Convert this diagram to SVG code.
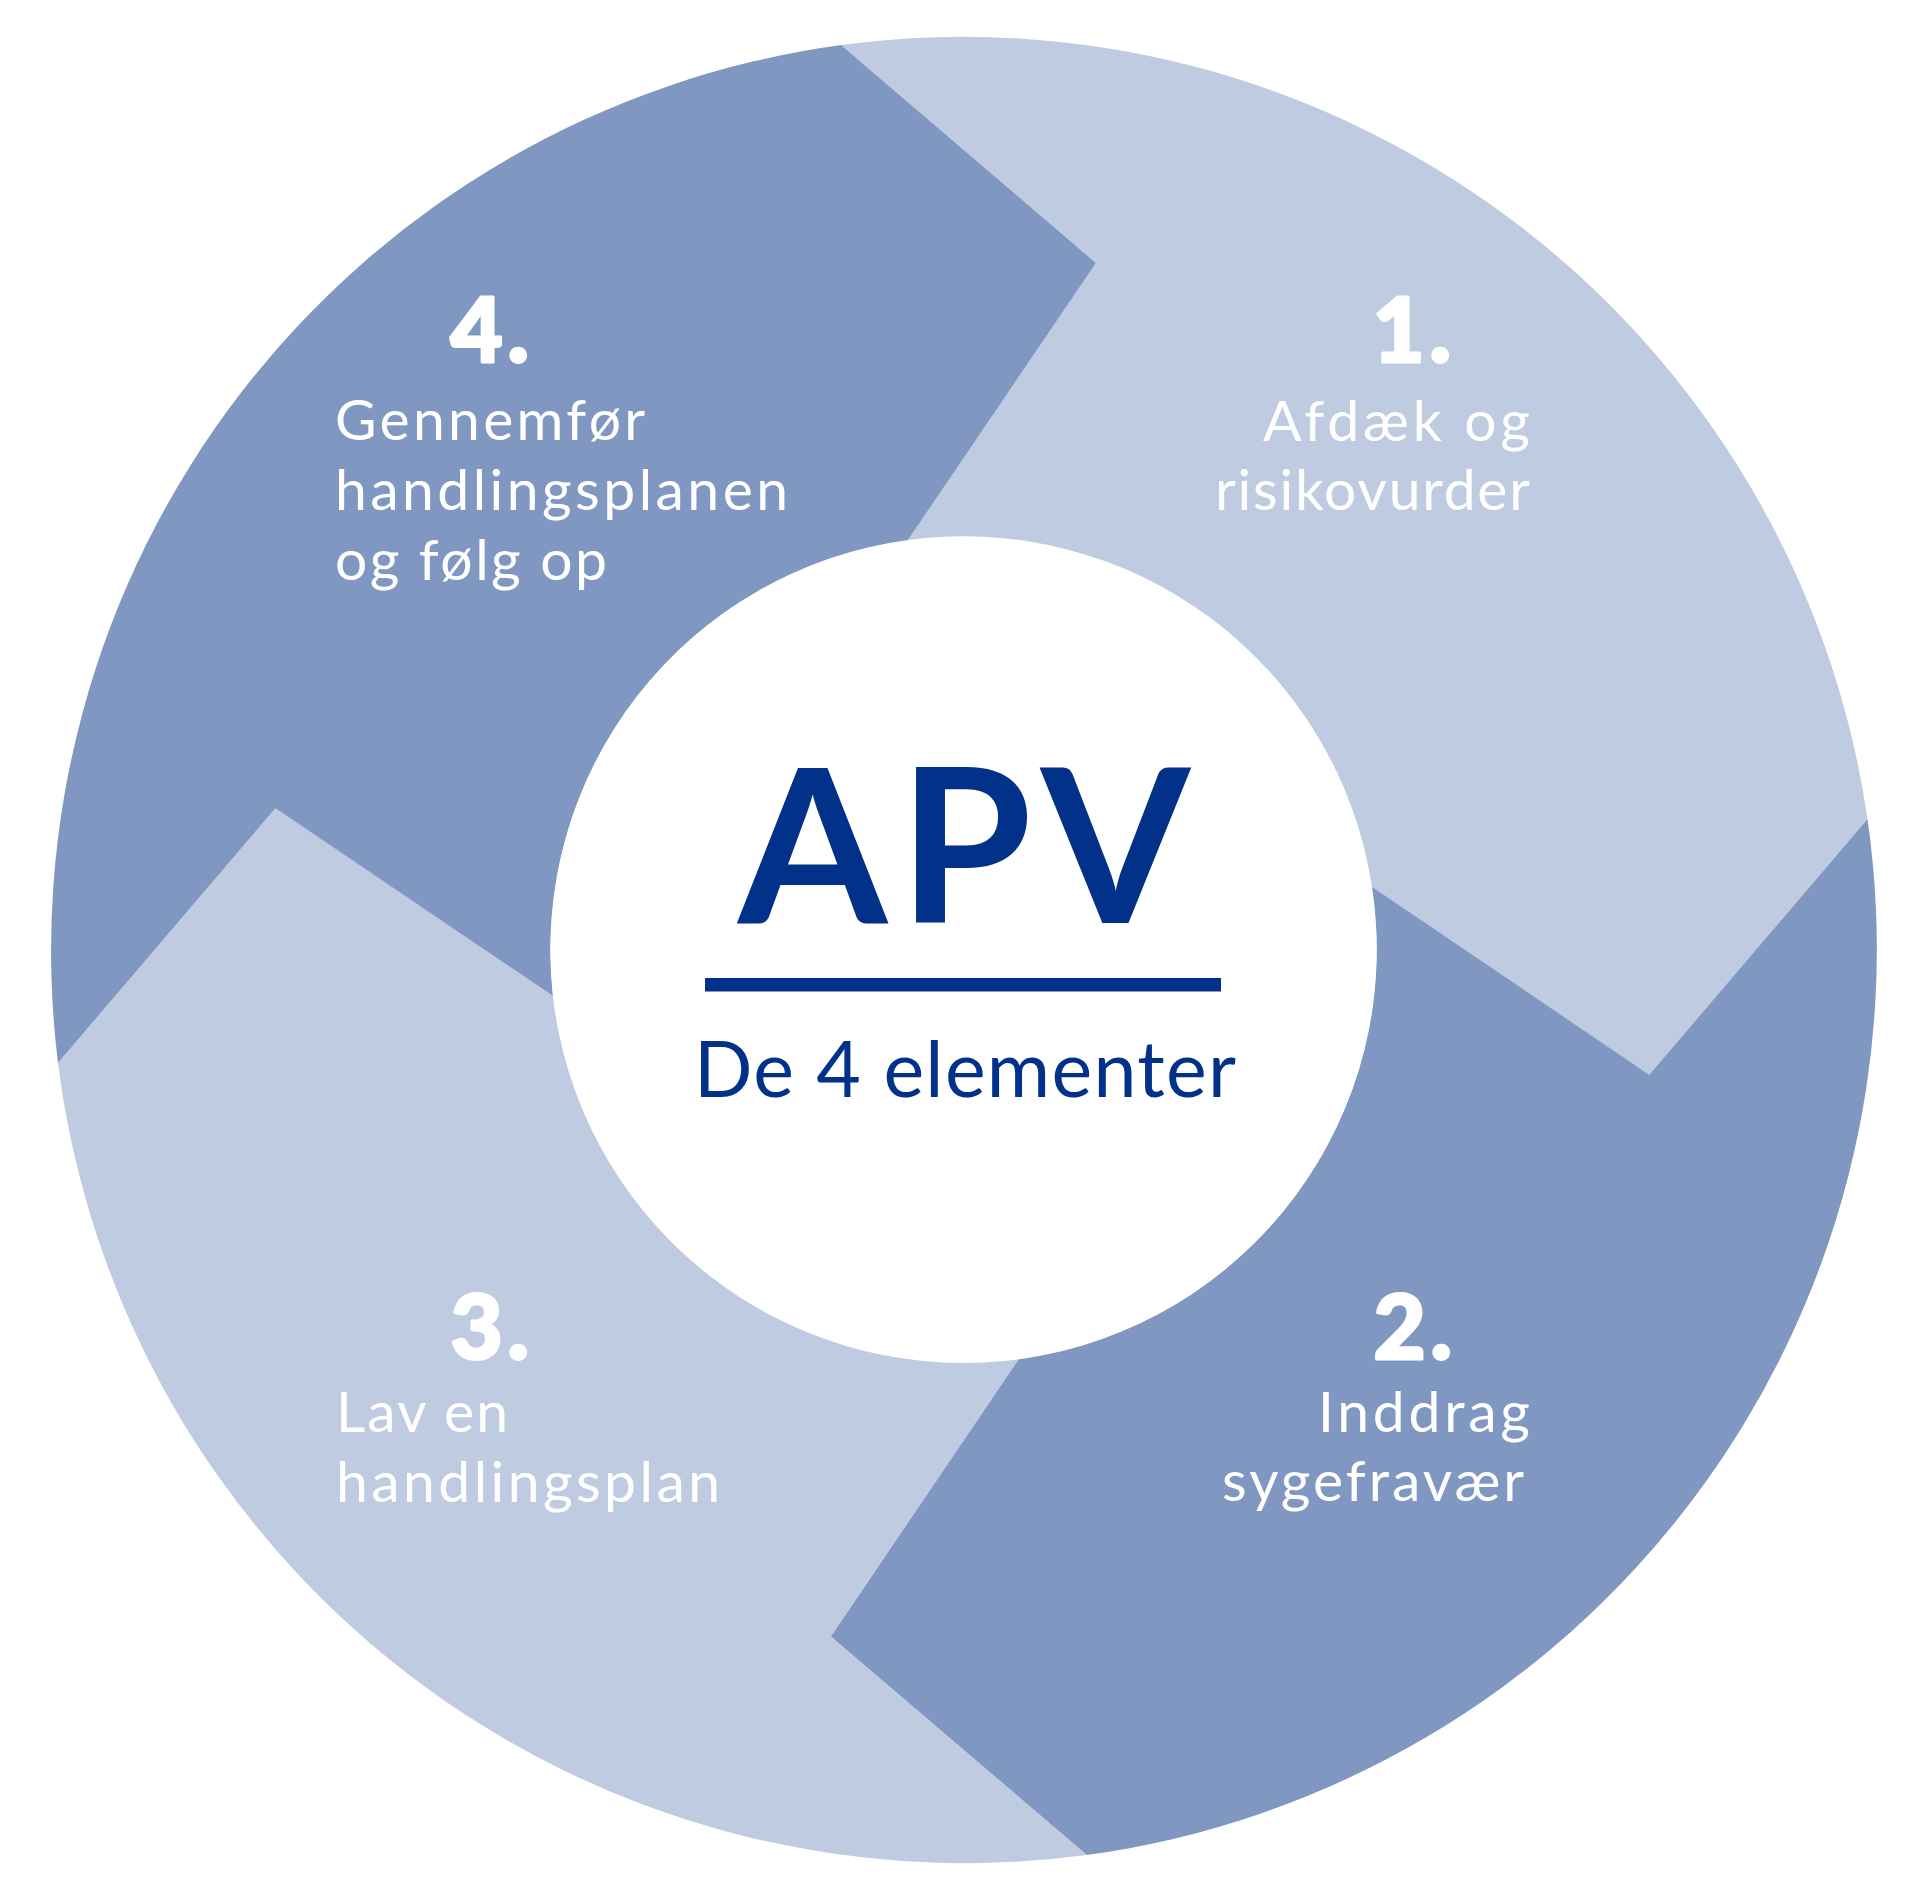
<svg xmlns="http://www.w3.org/2000/svg" width="1927" height="1901" viewBox="0 0 1927 1901">
  <style>
    .light { fill: #BFCBE1; }
    .dark { fill: #8097C2; }
    .num { font-family: Lato, "Liberation Sans", sans-serif; font-weight: 900; font-size: 90px; letter-spacing: 5px; fill: #FFFFFF; stroke: #FFFFFF; stroke-width: 3px; stroke-linejoin: round; }
    .body { font-family: Lato, "Liberation Sans", sans-serif; font-weight: 400; font-size: 57px; fill: #FFFFFF; }
    .title { font-family: Lato, "Liberation Sans", sans-serif; font-weight: 700; font-size: 215px; fill: #02318A; }
    .sub { font-family: Lato, "Liberation Sans", sans-serif; font-weight: 400; font-size: 77px; fill: #02318A; }
  </style>
  <rect x="0" y="0" width="1927" height="1901" fill="#FFFFFF"/>
  <g id="connectors"></g>
  <g id="seg1">
    <path class="light" d="M 841 45 A 914 914 0 0 1 1867.5 819 L 1649.3 1074.7 L 1372 886.7 A 413 413 0 0 0 908 540 L 1096 263 Z"/>
    <text class="num" x="1456" y="362" text-anchor="end">1.</text>
    <text class="body" x="1263" y="441" textLength="267" lengthAdjust="spacing">Afdæk og</text>
    <text class="body" x="1215" y="510" textLength="315" lengthAdjust="spacing">risikovurder</text>
  </g>
  <g id="seg2">
    <path class="dark" d="M 1867.5 819 A 914 914 0 0 1 1086.7 1855 L 830.7 1636.4 L 1019 1358.6 A 413 413 0 0 0 1372 886.7 L 1649.3 1074.7 Z"/>
    <text class="num" x="1457" y="1359" text-anchor="end">2.</text>
    <text class="body" x="1318" y="1432" textLength="212" lengthAdjust="spacing">Inddrag</text>
    <text class="body" x="1222" y="1501" textLength="302" lengthAdjust="spacing">sygefravær</text>
  </g>
  <g id="seg3">
    <path class="light" d="M 1086.7 1855 A 914 914 0 0 1 58 1063 L 275.4 808.3 L 553 996 A 413 413 0 0 0 1019 1358.6 L 830.7 1636.4 Z"/>
    <text class="num" x="534" y="1359" text-anchor="end">3.</text>
    <text class="body" x="336" y="1432" textLength="172" lengthAdjust="spacing">Lav en</text>
    <text class="body" x="336" y="1502" textLength="384" lengthAdjust="spacing">handlingsplan</text>
  </g>
  <g id="seg4">
    <path class="dark" d="M 58 1063 A 914 914 0 0 1 841 45 L 1096 263 L 908 540 A 413 413 0 0 0 553 996 L 275.4 808.3 Z"/>
    <text class="num" x="534" y="362" text-anchor="end">4.</text>
    <text class="body" x="335" y="440" textLength="310" lengthAdjust="spacing">Gennemfør</text>
    <text class="body" x="335" y="510" textLength="453" lengthAdjust="spacing">handlingsplanen</text>
    <text class="body" x="335" y="580" textLength="272" lengthAdjust="spacing">og følg op</text>
  </g>
  <g id="center">
    <circle cx="963.5" cy="950" r="413" fill="#FFFFFF"/>
    <text class="title" x="964" y="923" text-anchor="middle" textLength="452" lengthAdjust="spacing">APV</text>
    <rect x="705" y="978" width="516" height="13.5" fill="#02318A"/>
    <text class="sub" x="965" y="1097" text-anchor="middle" textLength="542" lengthAdjust="spacing">De 4 elementer</text>
  </g>
</svg>
